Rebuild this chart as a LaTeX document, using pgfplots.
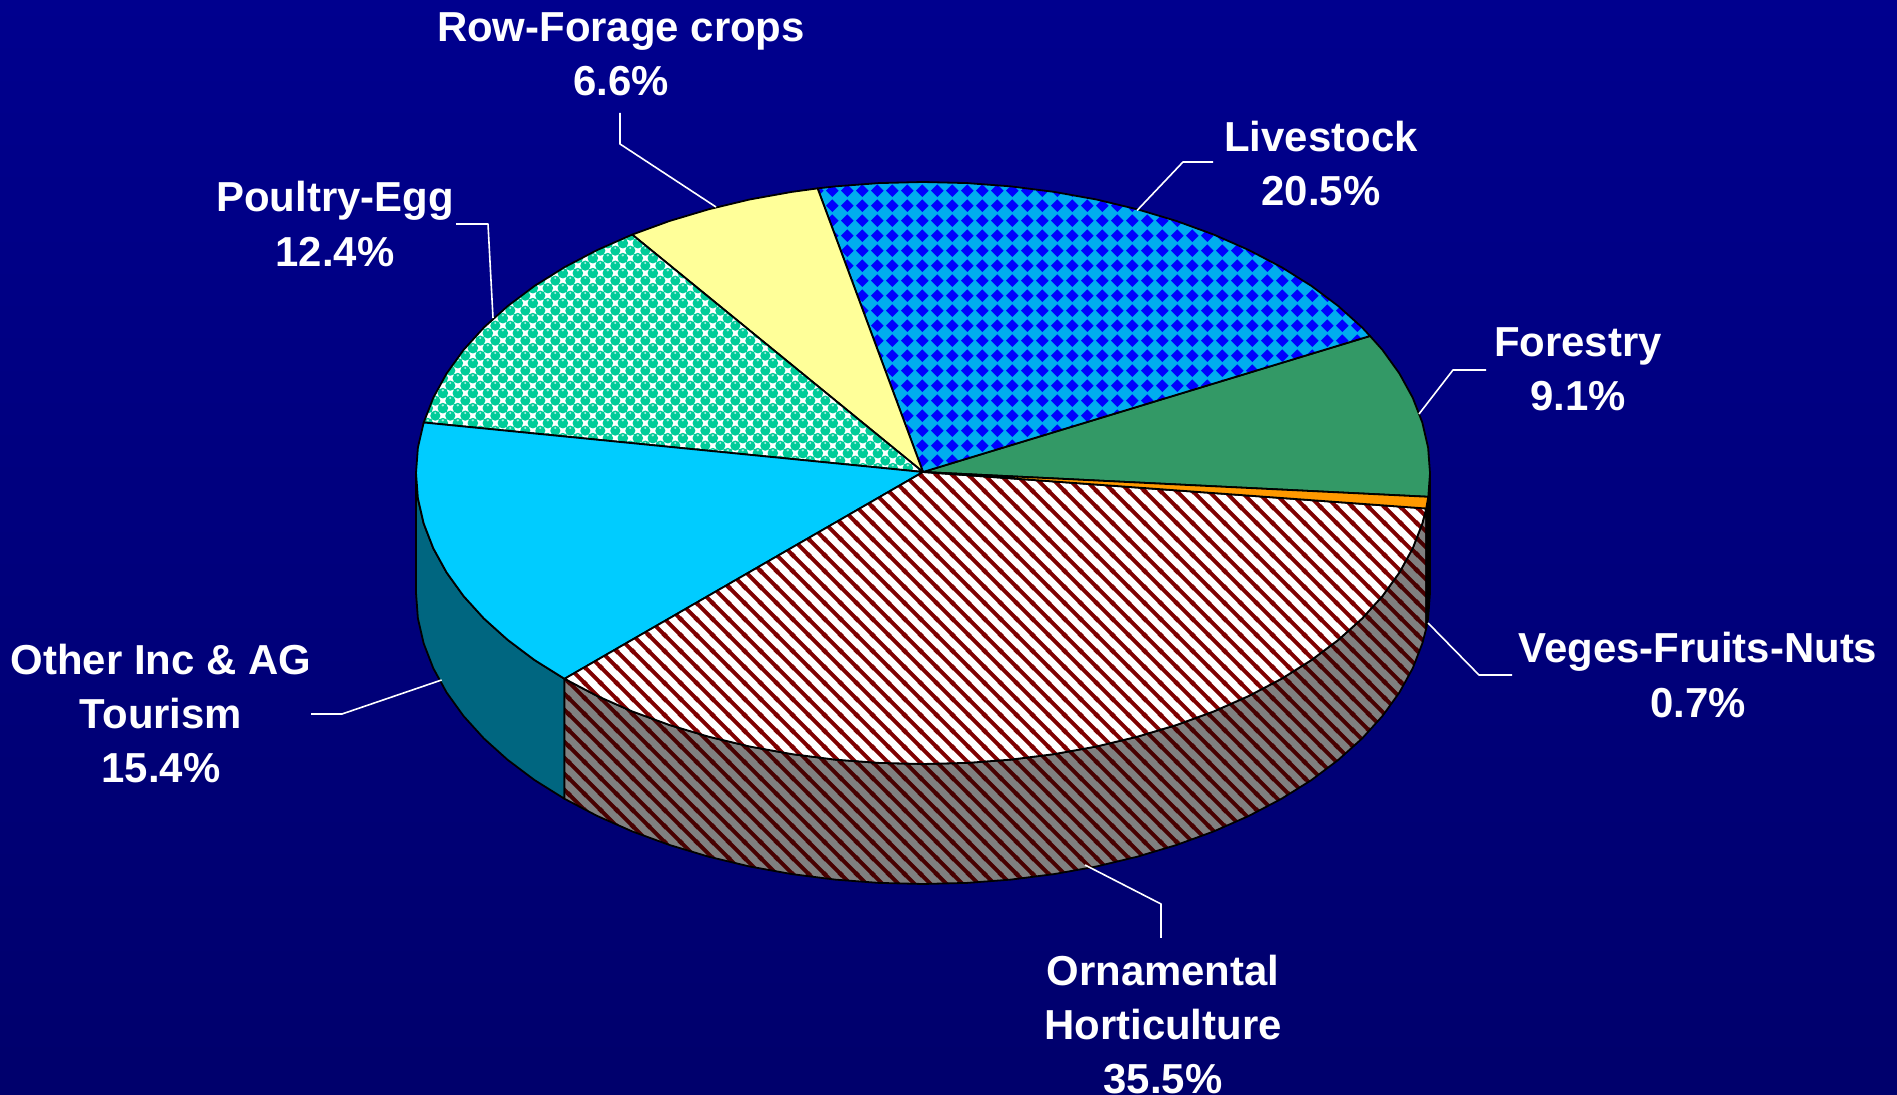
\documentclass[border=0pt]{standalone}
\usepackage{fontspec}
\setmainfont{Liberation Sans}
\usepackage{pgfplots}
\usepackage{pgfplotstable}
\pgfplotsset{compat=1.18}
\usetikzlibrary{patterns}
\definecolor{bgtop}{RGB}{0,0,142}
\definecolor{bgbot}{RGB}{0,0,108}
\definecolor{rowc}{RGB}{255,255,153}
\definecolor{forc}{RGB}{51,153,102}
\definecolor{othc}{RGB}{0,204,255}
\definecolor{othd}{RGB}{0,102,128}
\definecolor{vegc}{RGB}{255,153,0}
\definecolor{ornc}{RGB}{128,0,0}
\definecolor{ornd}{RGB}{72,0,0}
\definecolor{sideg}{RGB}{128,128,128}
\definecolor{poug}{RGB}{0,204,153}
\definecolor{pouh}{RGB}{170,240,222}
\pgfdeclarepatternformonly{lsdiamond}{\pgfqpoint{0pt}{0pt}}{\pgfqpoint{7.65pt}{7.65pt}}{\pgfqpoint{7.65pt}{7.65pt}}{%
  \pgfpathmoveto{\pgfqpoint{0.55pt}{3.825pt}}%
  \pgfpathlineto{\pgfqpoint{3.825pt}{7.1pt}}%
  \pgfpathlineto{\pgfqpoint{7.1pt}{3.825pt}}%
  \pgfpathlineto{\pgfqpoint{3.825pt}{0.55pt}}\pgfpathclose
  \pgfusepath{fill}}
\pgfdeclarepatternformonly{pdots}{\pgfqpoint{0pt}{0pt}}{\pgfqpoint{7.65pt}{7.65pt}}{\pgfqpoint{7.65pt}{7.65pt}}{%
  \pgfpathcircle{\pgfqpoint{3.825pt}{3.825pt}}{2.65pt}%
  \pgfpathcircle{\pgfqpoint{0pt}{0pt}}{2.65pt}%
  \pgfpathcircle{\pgfqpoint{7.65pt}{0pt}}{2.65pt}%
  \pgfpathcircle{\pgfqpoint{0pt}{7.65pt}}{2.65pt}%
  \pgfpathcircle{\pgfqpoint{7.65pt}{7.65pt}}{2.65pt}%
  \pgfusepath{fill}}
\pgfdeclarepatternformonly{phigh}{\pgfqpoint{0pt}{0pt}}{\pgfqpoint{7.65pt}{7.65pt}}{\pgfqpoint{7.65pt}{7.65pt}}{%
  \pgfpathcircle{\pgfqpoint{3.825pt}{5.2pt}}{0.6pt}%
  \pgfpathcircle{\pgfqpoint{0pt}{1.4pt}}{0.6pt}%
  \pgfpathcircle{\pgfqpoint{7.65pt}{1.4pt}}{0.6pt}%
  \pgfusepath{fill}}
\pgfdeclarepatternformonly{ostripe}{\pgfqpoint{0pt}{0pt}}{\pgfqpoint{7.9pt}{7.9pt}}{\pgfqpoint{7.9pt}{7.9pt}}{%
  \pgfsetlinewidth{2pt}%
  \pgfpathmoveto{\pgfqpoint{-1pt}{8.9pt}}\pgfpathlineto{\pgfqpoint{8.9pt}{-1pt}}%
  \pgfpathmoveto{\pgfqpoint{-2pt}{2pt}}\pgfpathlineto{\pgfqpoint{2pt}{-2pt}}%
  \pgfpathmoveto{\pgfqpoint{5.9pt}{9.9pt}}\pgfpathlineto{\pgfqpoint{9.9pt}{5.9pt}}%
  \pgfusepath{stroke}}
\pgfplotstableread[row sep=\\]{x y\\923 472\\1428.3 496.8\\1430 473\\1428.1 447.6\\1422.3 422.5\\1412.7 397.7\\1399.4 373.5\\1382.5 350\\1370 336\\923 472\\}\tForestry
\pgfplotstableread[row sep=\\]{x y\\923 472\\1370 336\\1362.1 327.5\\1338.3 306.1\\1311.4 285.9\\1281.5 267.2\\1248.9 250.1\\1213.8 234.6\\1176.5 221\\1137.3 209.3\\1096.4 199.5\\1054.2 191.9\\1011 186.4\\967.2 183.1\\923 182\\878.8 183.1\\835 186.4\\817.6 188.4\\923 472\\}\tLivestock
\pgfplotstableread[row sep=\\]{x y\\923 472\\817.6 188.4\\791.8 191.9\\749.6 199.5\\708.7 209.3\\669.5 221\\632.2 234.6\\923 472\\}\tRow
\pgfplotstableread[row sep=\\]{x y\\923 472\\632.2 234.6\\597.1 250.1\\564.5 267.2\\534.6 285.9\\507.7 306.1\\483.9 327.5\\463.5 350\\446.6 373.5\\433.3 397.7\\423.7 422.5\\923 472\\}\tPoultry
\pgfplotstableread[row sep=\\]{x y\\923 472\\423.7 422.5\\417.9 447.6\\416 473\\417.9 498.4\\423.7 523.5\\433.3 548.3\\446.6 572.5\\463.5 596\\483.9 618.5\\507.7 639.9\\534.6 660.1\\564.5 678.8\\923 472\\}\tOther
\pgfplotstableread[row sep=\\]{x y\\923 472\\564.5 678.8\\597.1 695.9\\632.2 711.4\\669.5 725\\708.7 736.7\\749.6 746.5\\791.8 754.1\\835 759.6\\878.8 762.9\\923 764\\967.2 762.9\\1011 759.6\\1054.2 754.1\\1096.4 746.5\\1137.3 736.7\\1176.5 725\\1213.8 711.4\\1248.9 695.9\\1281.5 678.8\\1311.4 660.1\\1338.3 639.9\\1362.1 618.5\\1382.5 596\\1399.4 572.5\\1412.7 548.3\\1422.3 523.5\\1426.2 508.5\\923 472\\}\tOrnamental
\pgfplotstableread[row sep=\\]{x y\\923 472\\1426.2 508.5\\1428.3 496.8\\923 472\\}\tVeges
\pgfplotstableread[row sep=\\]{x y\\564.5 678.8\\597.1 695.9\\632.2 711.4\\669.5 725\\708.7 736.7\\749.6 746.5\\791.8 754.1\\835 759.6\\878.8 762.9\\923 764\\967.2 762.9\\1011 759.6\\1054.2 754.1\\1096.4 746.5\\1137.3 736.7\\1176.5 725\\1213.8 711.4\\1248.9 695.9\\1281.5 678.8\\1311.4 660.1\\1338.3 639.9\\1362.1 618.5\\1382.5 596\\1399.4 572.5\\1412.7 548.3\\1422.3 523.5\\1426.2 508.5\\1426.2 628.5\\1422.3 643.5\\1412.7 668.3\\1399.4 692.5\\1382.5 716\\1362.1 738.5\\1338.3 759.9\\1311.4 780.1\\1281.5 798.8\\1248.9 815.9\\1213.8 831.4\\1176.5 845\\1137.3 856.7\\1096.4 866.5\\1054.2 874.1\\1011 879.6\\967.2 882.9\\923 884\\878.8 882.9\\835 879.6\\791.8 874.1\\749.6 866.5\\708.7 856.7\\669.5 845\\632.2 831.4\\597.1 815.9\\564.5 798.8\\564.5 678.8\\}\tOrnSide
\pgfplotstableread[row sep=\\]{x y\\416 473\\417.9 498.4\\423.7 523.5\\433.3 548.3\\446.6 572.5\\463.5 596\\483.9 618.5\\507.7 639.9\\534.6 660.1\\564.5 678.8\\564.5 798.8\\534.6 780.1\\507.7 759.9\\483.9 738.5\\463.5 716\\446.6 692.5\\433.3 668.3\\423.7 643.5\\417.9 618.4\\416 593\\416 473\\}\tOthSide
\pgfplotstableread[row sep=\\]{x y\\1426.2 508.5\\1428.3 496.8\\1430 473\\1430 593\\1428.1 618.4\\1426.2 628.5\\1426.2 508.5\\}\tVegSide
\newcommand\leader[1]{\addplot[white,line width=0.8pt,line join=round] coordinates {#1};}
\tikzset{lab/.style={white,align=center,font=\fontsize{20.95}{27.2}\bfseries\selectfont,inner sep=0pt}}
\pgfplotsset{every axis plot/.append style={no markers,line join=round,line width=0.9pt}}
\begin{document}
\begin{tikzpicture}[x=1pt,y=1pt]
\useasboundingbox (0,0) rectangle (948.5,547.5);
\shade[top color=bgtop,bottom color=bgbot] (0,0) rectangle (948.5,547.5);
\begin{axis}[at={(0,0)},anchor=south west,scale only axis,width=948.5pt,height=547.5pt,
  xmin=0,xmax=1897,ymin=0,ymax=1095,y dir=reverse,hide axis,clip=false]
% side faces
\addplot[fill=othd,draw=black] table[x=x,y=y] {\tOthSide};
\addplot[fill=sideg,draw=none] table[x=x,y=y] {\tOrnSide};
\addplot[pattern=ostripe,pattern color=ornd,draw=black] table[x=x,y=y] {\tOrnSide};
\addplot[fill=black,draw=black] table[x=x,y=y] {\tVegSide};
% top faces
\addplot[fill=forc,draw=black] table[x=x,y=y] {\tForestry};
\addplot[fill=cyan,draw=none] table[x=x,y=y] {\tLivestock};
\addplot[pattern=lsdiamond,pattern color=blue,draw=black] table[x=x,y=y] {\tLivestock};
\addplot[fill=rowc,draw=black] table[x=x,y=y] {\tRow};
\addplot[fill=white,draw=none] table[x=x,y=y] {\tPoultry};
\addplot[pattern=pdots,pattern color=poug,draw=none] table[x=x,y=y] {\tPoultry};
\addplot[pattern=phigh,pattern color=pouh,draw=black] table[x=x,y=y] {\tPoultry};
\addplot[fill=othc,draw=black] table[x=x,y=y] {\tOther};
\addplot[fill=white,draw=none] table[x=x,y=y] {\tOrnamental};
\addplot[pattern=ostripe,pattern color=ornc,draw=black] table[x=x,y=y] {\tOrnamental};
\addplot[fill=vegc,draw=black] table[x=x,y=y] {\tVeges};
% leaders
\leader{(620,113) (620,144) (716,207)}
\leader{(456,224) (488,224) (493,318)}
\leader{(1213,162) (1183,162) (1137,210.5)}
\leader{(1486,370) (1453,370) (1419,414)}
\leader{(1512,675) (1479,675) (1428,623)}
\leader{(1161,938) (1161,904) (1085,865)}
\leader{(311,714) (342,714) (441.6,680)}
% labels
\node[lab] at (axis cs:621,54.5) {Row-Forage crops\\6.6\%};
\node[lab] at (axis cs:335,224) {Poultry-Egg\\12.4\%};
\node[lab] at (axis cs:1321,163.5) {Livestock\\20.5\%};
\node[lab] at (axis cs:1578,369.5) {Forestry\\9.1\%};
\node[lab] at (axis cs:1698,675) {Veges-Fruits-Nuts\\0.7\%};
\node[lab] at (axis cs:1163,1024.5) {Ornamental\\Horticulture\\35.5\%};
\node[lab] at (axis cs:161,713.5) {Other Inc \& AG\\Tourism\\15.4\%};
\end{axis}
\end{tikzpicture}
\end{document}
